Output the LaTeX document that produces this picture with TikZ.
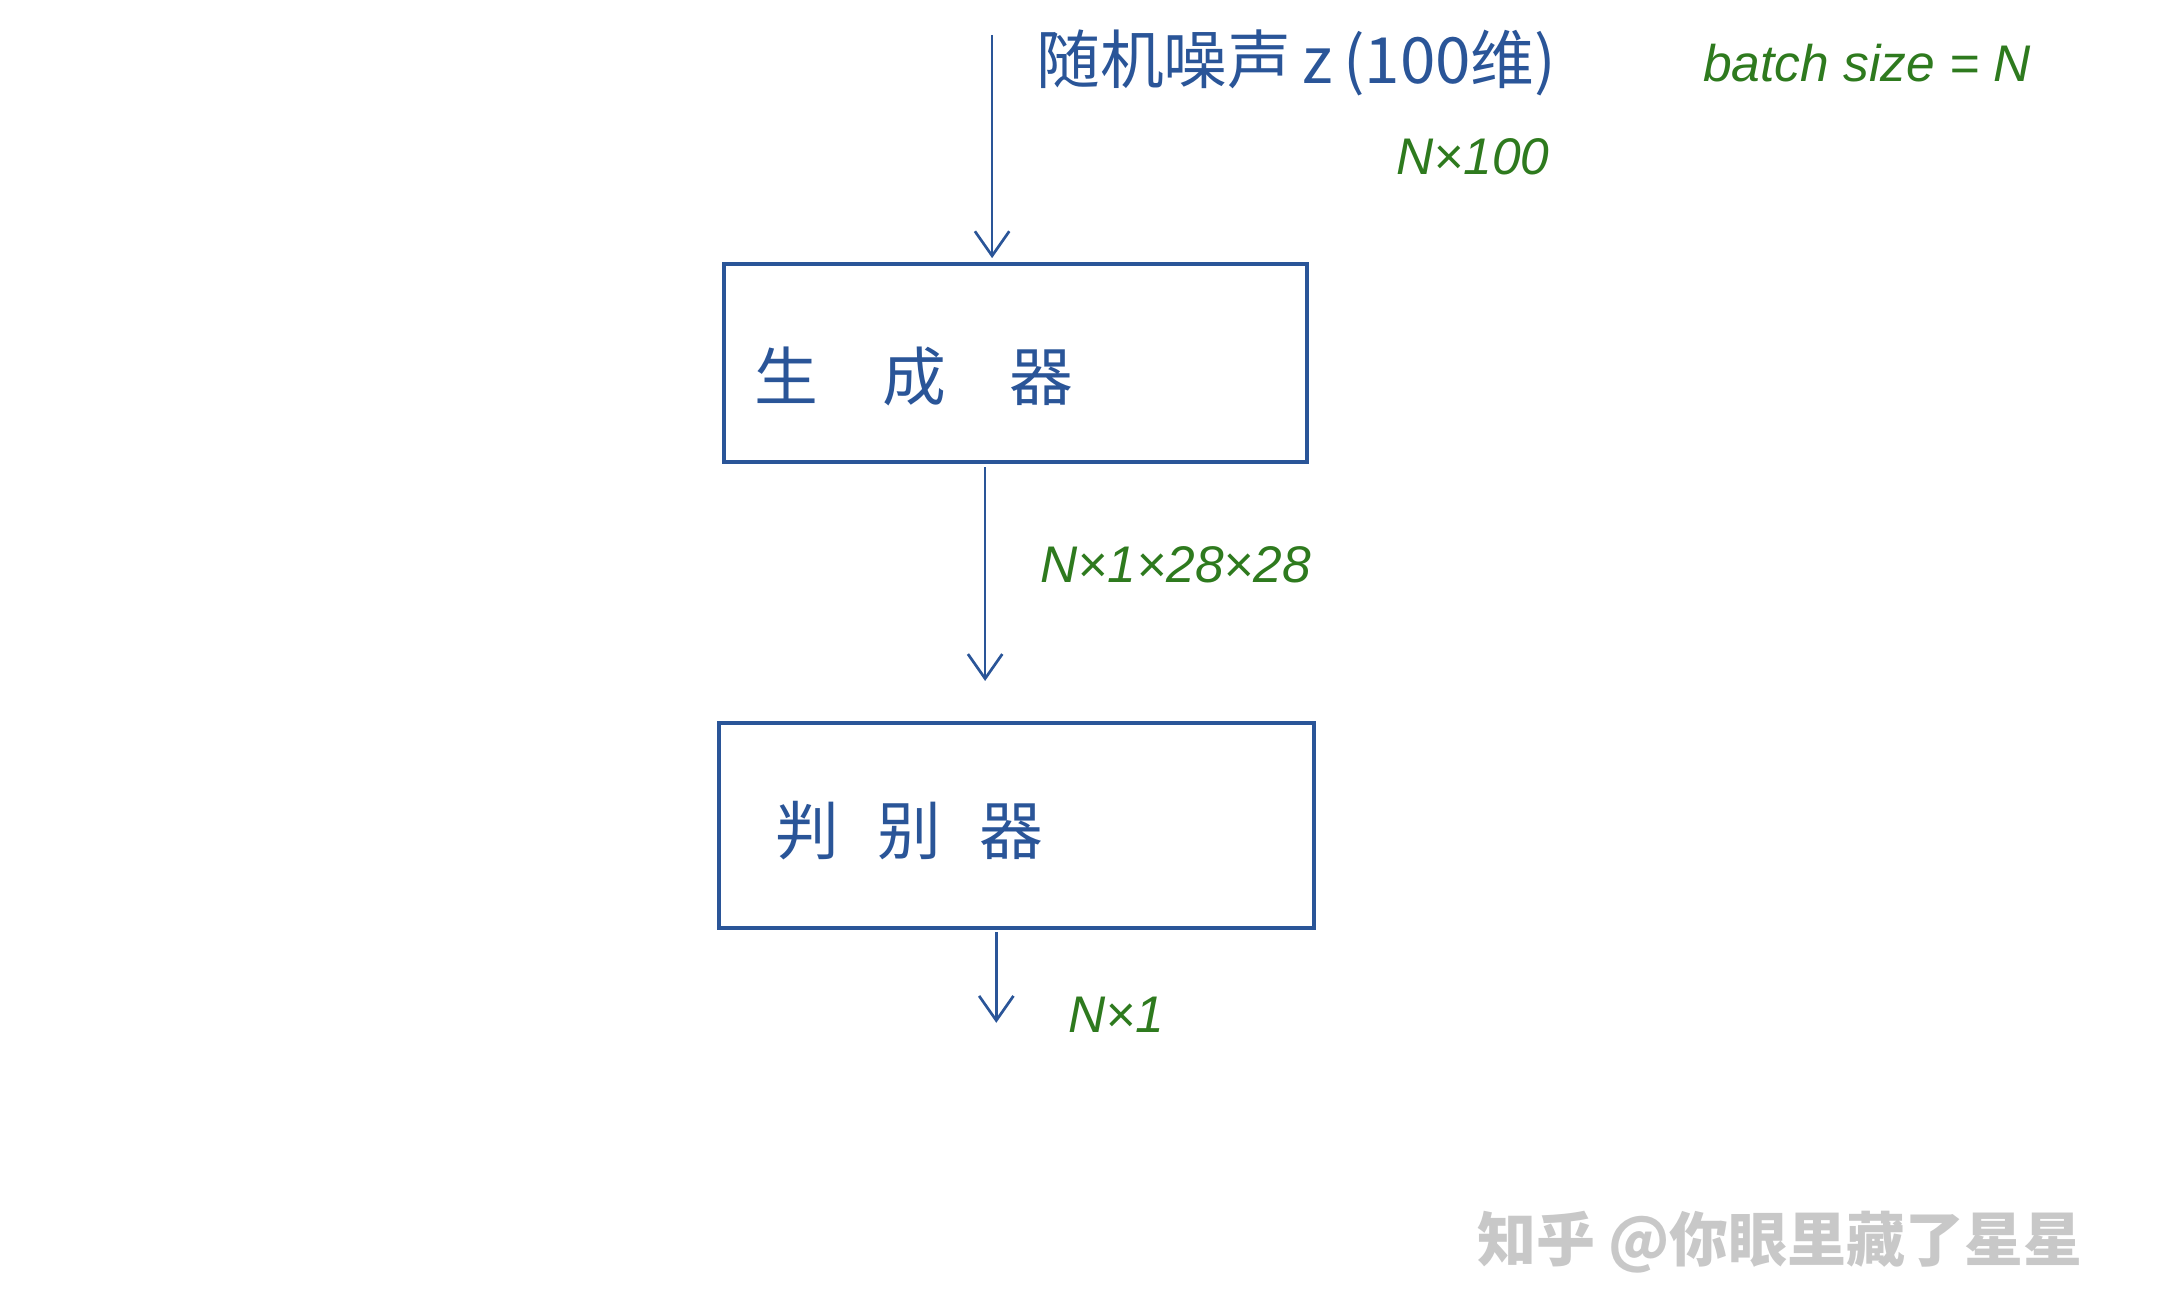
\documentclass[tikz,border=0pt]{standalone}
\usetikzlibrary{arrows.meta}
\usepackage{fontspec}
\setmainfont{Liberation Sans}
\newfontfamily\cjk{Noto Sans CJK SC}
\definecolor{pen}{HTML}{2A5598}
\definecolor{grn}{HTML}{2E7A1E}
\definecolor{wm}{HTML}{C8C8C8}
\begin{document}
\begin{tikzpicture}[x=0.01cm,y=-0.01cm,
  box/.style={draw=pen,line width=0.8pt,rectangle},
  arr/.style={draw=pen,line width=0.55pt,-{Straight Barb[length=5pt,width=7pt]}},
  bl/.style={text=pen,font=\cjk\fontsize{13}{15}\selectfont,anchor=west,inner sep=0},
  gl/.style={text=grn,font=\itshape\fontsize{10.5}{12}\selectfont,anchor=west,inner sep=0}]
\useasboundingbox (0,0) rectangle (1548,942);
\draw[box] (519,189) rectangle (937,331);
\node[bl] (g) at (540,270) {生\hspace{1em}成\hspace{1em}器};
\draw[box] (515,518) rectangle (942,665);
\node[bl] (d) at (555,595) {判\hspace{0.6em}别\hspace{0.6em}器};
\coordinate (s0) at (711,25); \coordinate (s1) at (711,185);
\draw[arr] (s0) -- (s1);
\coordinate (m0) at (706,335); \coordinate (m1) at (706,488);
\draw[arr] (m0) -- (m1);
\coordinate (e0) at (714,668); \coordinate (e1) at (714,733);
\draw[arr] (e0) -- (e1);
\node[bl] (z) at (742,45) {随机噪声\,z\,(100维)};
\node[gl] (bs) at (1220,45) {batch size = N};
\node[gl] (n100) at (1000,112) {N×100};
\node[gl] (img) at (745,405) {N×1×28×28};
\node[gl] (out) at (765,727) {N×1};
\node[text=wm,font=\cjk\bfseries\fontsize{12}{14}\selectfont,anchor=west,inner sep=0] (w) at (1058,890) {知乎 @你眼里藏了星星};
\end{tikzpicture}
\end{document}
